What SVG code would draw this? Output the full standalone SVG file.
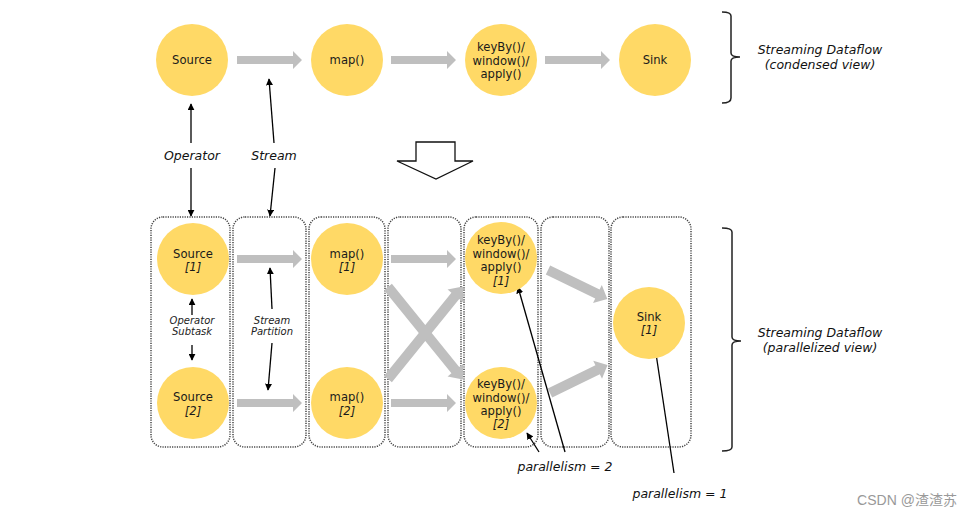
<svg xmlns="http://www.w3.org/2000/svg" width="972" height="516" viewBox="0 0 972 516">
<defs>
<style>
.node{fill:#FFD966;}
.t{font-family:"DejaVu Sans",Verdana,sans-serif;font-size:11.6px;fill:#1a1a1a;text-anchor:middle;}
.i{font-style:italic;}
.lbl{font-family:"DejaVu Sans",Verdana,sans-serif;font-size:12.5px;font-style:italic;fill:#111;text-anchor:middle;}
.sm{font-family:"DejaVu Sans",Verdana,sans-serif;font-size:10px;font-style:italic;fill:#222;text-anchor:middle;}
.box{fill:none;stroke:#444;stroke-width:1.5;stroke-dasharray:1.2 1.2;}
.flow{fill:#BFBFBF;}
.thin{stroke:#000;stroke-width:1.3;fill:none;marker-end:url(#ah);}
.brace{fill:none;stroke:#222;stroke-width:1.5;}
</style>
<marker id="ah" viewBox="0 0 10 10" refX="9" refY="5" markerWidth="7" markerHeight="7" markerUnits="userSpaceOnUse" orient="auto"><path d="M0,0 L10,5 L0,10 Z" fill="#000"/></marker>
</defs>
<rect width="972" height="516" fill="#fff"/>

<g id="boxes">
<rect class="box" x="151" y="217" width="79" height="230" rx="12"/>
<rect class="box" x="233" y="217" width="73" height="230" rx="12"/>
<rect class="box" x="309" y="217" width="76" height="230" rx="12"/>
<rect class="box" x="388" y="217" width="73" height="230" rx="12"/>
<rect class="box" x="464" y="217" width="74" height="230" rx="12"/>
<rect class="box" x="541" y="217" width="68" height="230" rx="12"/>
<rect class="box" x="611" y="217" width="80" height="230" rx="12"/>
</g>

<g id="connectors">
<path class="flow" d="M237,56 H293 V51 L302,60 L293,69 V64 H237 Z"/>
<path class="flow" d="M391,56 H447 V51 L456,60 L447,69 V64 H391 Z"/>
<path class="flow" d="M545,56 H601 V51 L610,60 L601,69 V64 H545 Z"/>
<path class="flow" d="M237,255 H293 V250 L302,259 L293,268 V263 H237 Z"/>
<path class="flow" d="M237,399 H293 V394 L302,403 L293,412 V407 H237 Z"/>
<path class="flow" d="M391,255 H447 V250 L456,259 L447,268 V263 H391 Z"/>
<path class="flow" d="M391,399 H447 V394 L456,403 L447,412 V407 H391 Z"/>
<path class="flow" transform="translate(388,287) rotate(51)" d="M0,-5 H107 V-10 L119,0 L107,10 V5 H0 Z"/>
<path class="flow" transform="translate(388,379) rotate(-51)" d="M0,-5 H107 V-10 L119,0 L107,10 V5 H0 Z"/>
<path class="flow" transform="translate(548,270) rotate(26)" d="M0,-5 H55 V-10 L66,0 L55,10 V5 H0 Z"/>
<path class="flow" transform="translate(550,393) rotate(-26)" d="M0,-5 H53 V-10 L64,0 L53,10 V5 H0 Z"/>
<path d="M416,142 H455 V161 H473 L436,179 L397,161 H416 Z" fill="#fff" stroke="#111" stroke-width="1.3"/>
<line class="thin" x1="191" y1="143" x2="191" y2="104"/>
<line class="thin" x1="191" y1="168" x2="191" y2="216"/>
<line class="thin" x1="274" y1="143" x2="269" y2="79"/>
<line class="thin" x1="275" y1="168" x2="270" y2="216"/>
<line class="thin" x1="192" y1="315" x2="192" y2="299"/>
<line class="thin" x1="192" y1="345" x2="192" y2="360"/>
<line class="thin" x1="272" y1="309" x2="270" y2="268"/>
<line class="thin" x1="272" y1="343" x2="268" y2="390"/>
<line class="thin" x1="565" y1="452" x2="518" y2="287"/>
<line class="thin" x1="539" y1="452" x2="527" y2="433"/>
<line class="thin" x1="674" y1="473" x2="655" y2="347"/>
</g>

<g id="src"><circle class="node" cx="192" cy="60" r="36"/><text class="t" x="192" y="64">Source</text></g>
<g id="map"><circle class="node" cx="347" cy="60" r="36"/><text class="t" x="347" y="64">map()</text></g>
<g id="key"><circle class="node" cx="501" cy="60" r="36"/><text class="t" x="501" y="51">keyBy()/</text><text class="t" x="501" y="65">window()/</text><text class="t" x="501" y="78">apply()</text></g>
<g id="sink"><circle class="node" cx="655" cy="60" r="36"/><text class="t" x="655" y="64">Sink</text></g>

<g id="src1"><circle class="node" cx="193" cy="259" r="36"/><text class="t" x="193" y="258">Source</text><text class="t i" x="193" y="271">[1]</text></g>
<g id="src2"><circle class="node" cx="193" cy="403" r="36"/><text class="t" x="193" y="401">Source</text><text class="t i" x="193" y="415">[2]</text></g>
<g id="map1"><circle class="node" cx="347" cy="259" r="36"/><text class="t" x="347" y="258">map()</text><text class="t i" x="347" y="271">[1]</text></g>
<g id="map2"><circle class="node" cx="347" cy="403" r="36"/><text class="t" x="347" y="401">map()</text><text class="t i" x="347" y="415">[2]</text></g>
<g id="key1"><circle class="node" cx="501" cy="258" r="36"/><text class="t" x="501" y="244">keyBy()/</text><text class="t" x="501" y="258">window()/</text><text class="t" x="501" y="271">apply()</text><text class="t i" x="501" y="285">[1]</text></g>
<g id="key2"><circle class="node" cx="501" cy="403" r="36"/><text class="t" x="501" y="388">keyBy()/</text><text class="t" x="501" y="402">window()/</text><text class="t" x="501" y="415">apply()</text><text class="t i" x="501" y="428">[2]</text></g>
<g id="sink1"><circle class="node" cx="649" cy="323" r="36"/><text class="t" x="649" y="321">Sink</text><text class="t i" x="649" y="334">[1]</text></g>

<g id="labels">
<text class="lbl" x="192" y="160">Operator</text>
<text class="lbl" x="274" y="160">Stream</text>
<text class="sm" x="192" y="324">Operator</text>
<text class="sm" x="192" y="335">Subtask</text>
<text class="sm" x="272" y="324">Stream</text>
<text class="sm" x="272" y="335">Partition</text>
<text class="lbl" x="565" y="471">parallelism = 2</text>
<text class="lbl" x="680" y="498">parallelism = 1</text>
<text class="lbl" x="820" y="54">Streaming Dataflow</text>
<text class="lbl" x="820" y="69">(condensed view)</text>
<text class="lbl" x="820" y="337">Streaming Dataflow</text>
<text class="lbl" x="820" y="352">(parallelized view)</text>
<text x="907" y="505" font-family="'Liberation Sans','Noto Sans CJK SC',sans-serif" font-size="14" fill="#999" text-anchor="middle">CSDN @渣渣苏</text>
</g>

<g id="braces">
<path class="brace" d="M722,12 Q731,12 731,16 V53 Q731,57 740,57 Q731,57 731,61 V98 Q731,103 722,103"/>
<path class="brace" d="M722,228 Q732,228 732,232 V337 Q732,341 741,341 Q732,341 732,345 V447 Q732,451 722,451"/>
</g>
</svg>
